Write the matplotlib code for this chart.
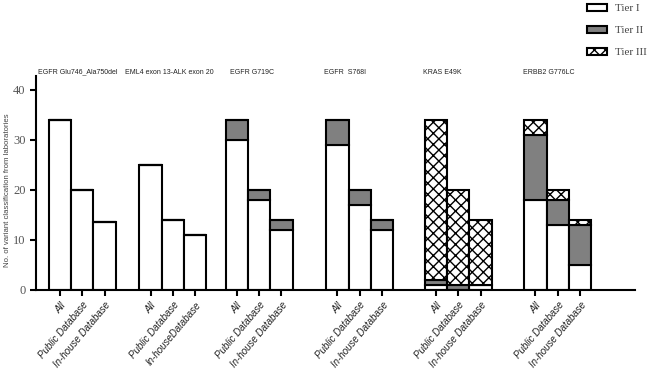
import numpy as np
import matplotlib
matplotlib.use("Agg")
import matplotlib.pyplot as plt
from matplotlib.patches import Patch

variants = ["EGFR Glu746_Ala750del", "EML4 exon 13-ALK exon 20", "EGFR G719C",
            "EGFR  S768I", "KRAS E49K", "ERBB2 G776LC"]
sources = [["All", "Public Database", "In-house Database"],
           ["All", "Public Database", "In-houseDatabase"],
           ["All", "Public Database", "In-house Database"],
           ["All", "Public Database", "In-house Database"],
           ["All", "Public Database", "In-house Database"],
           ["All", "Public Database", "In-house Database"]]

# counts per variant: [All, Public, In-house]
tier1 = [[34, 20, 13.5], [25, 14, 11], [30, 18, 12], [29, 17, 12], [1, 0, 1], [18, 13, 5]]
tier2 = [[0, 0, 0], [0, 0, 0], [4, 2, 2], [5, 3, 2], [1, 1, 0], [13, 5, 8]]
tier3 = [[0, 0, 0], [0, 0, 0], [0, 0, 0], [0, 0, 0], [32, 19, 13], [3, 2, 1]]

# layout: left edge of each group's "All" bar and title shift, in bar widths
group_start = [0, 4.05, 7.9, 12.4, 16.8, 21.25]
title_shift = [-0.2, -0.15, -0.3, -0.67, -0.7, -0.4]

plt.rcParams["hatch.linewidth"] = 1.0

fig = plt.figure(figsize=(6.53, 3.76), dpi=100)
ax = fig.add_axes([0.0551, 0.2295, 0.9173, 0.5678])

xs, labels = [], []
for g in range(len(variants)):
    x = group_start[g] + 0.5 + np.arange(3)
    t1 = np.array(tier1[g], float)
    t2 = np.array(tier2[g], float)
    t3 = np.array(tier3[g], float)
    kw = dict(width=1.0, edgecolor="black", linewidth=1.5)
    ax.bar(x, t1, color="white", **kw)
    ax.bar(x, t2, bottom=t1, color="#808080", **kw)
    ax.bar(x, t3, bottom=t1 + t2, color="white", hatch="xxx", **kw)
    xs.extend(x)
    labels.extend(sources[g])
    ax.text(x[1] + title_shift[g], 43.5, variants[g], ha="center", va="center",
            fontsize=5.0, family="Liberation Sans", color="#222222")

ax.set_xlim(-0.57, 26.2)
ax.set_ylim(0, 42.7)
ax.set_yticks([0, 10, 20, 30, 40])
ax.set_yticklabels(["0", "10", "20", "30", "40"], family="Liberation Serif",
                   fontsize=9, color="#555555")
ax.set_xticks(xs)
ax.set_xticklabels(labels, rotation=50, ha="right", rotation_mode="anchor",
                   fontsize=7, style="italic", family="Liberation Sans",
                   color="#222222")
ax.tick_params(axis="both", width=1.5, length=4)
for s in ["top", "right"]:
    ax.spines[s].set_visible(False)
for s in ["left", "bottom"]:
    ax.spines[s].set_linewidth(1.5)

fig.text(8 / 653, 1 - 190 / 376, "No. of variant classification from laboratories",
         rotation=90, ha="center", va="center", fontsize=5.6,
         family="Liberation Sans", color="#444444")

handles = [Patch(facecolor="white", edgecolor="black", linewidth=1.5),
           Patch(facecolor="#808080", edgecolor="black", linewidth=1.5),
           Patch(facecolor="white", edgecolor="black", linewidth=1.5, hatch="xxx")]
leg = fig.legend(handles, ["Tier I", "Tier II", "Tier III"], loc="upper right",
                 bbox_to_anchor=(1.006, 1.017), frameon=False, handlelength=1.8,
                 handleheight=0.7, labelspacing=1.1, handletextpad=0.7,
                 prop={"family": "Liberation Serif", "size": 8})
for t in leg.get_texts():
    t.set_color("#444444")

fig.savefig("out.png", dpi=100)
